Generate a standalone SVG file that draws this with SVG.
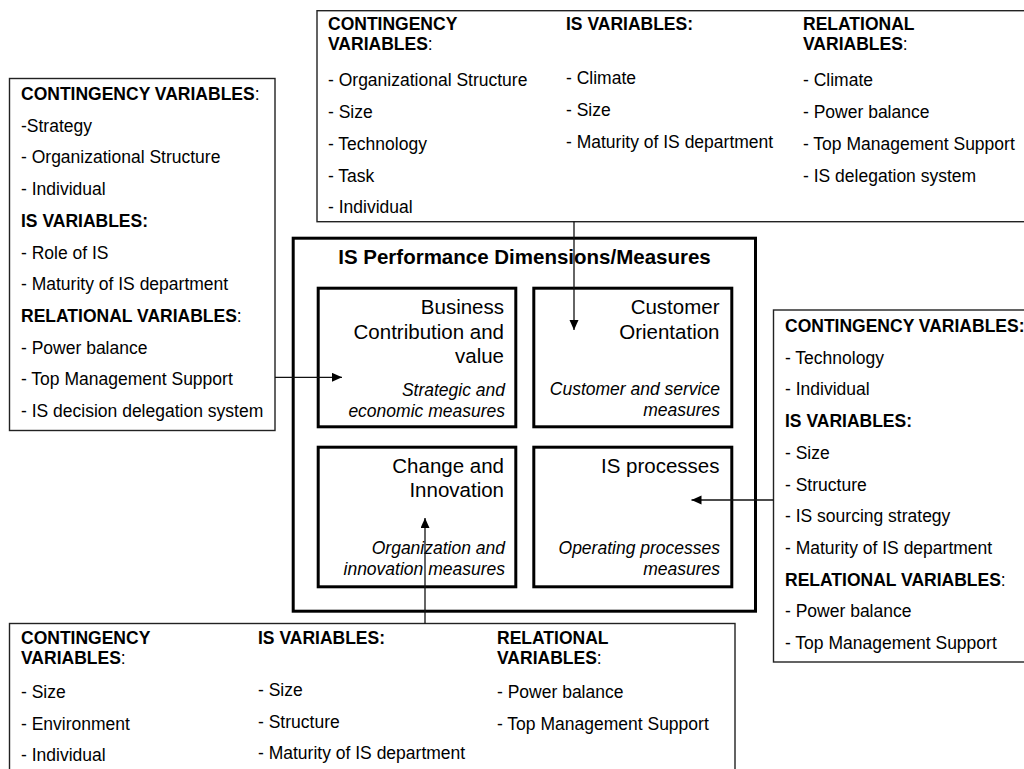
<svg xmlns="http://www.w3.org/2000/svg" width="1024" height="769" viewBox="0 0 1024 769">
  <style>
    text { font-family: "Liberation Sans", Arial, Helvetica, sans-serif; font-size: 17.5px; fill: #000; }
    .b { font-weight: bold; }
    .n { font-weight: normal; }
    .h { font-size: 20.5px; }
    .i { font-style: italic; }
    .r { text-anchor: end; }
    .m { text-anchor: middle; }
    .box { fill: #fff; stroke: #222; stroke-width: 1.4; }
    .thick { fill: #fff; stroke: #000; stroke-width: 3; }
    .link { fill: none; stroke: #111; stroke-width: 1.3; }
  </style>
  <defs>
    <marker id="arrow" markerUnits="userSpaceOnUse" markerWidth="11" markerHeight="10" refX="10" refY="4.5" orient="auto">
      <path d="M0,0 L10,4.5 L0,9 z" fill="#000"/>
    </marker>
  </defs>

  <rect width="1024" height="769" fill="#fff"/>

  <!-- central frame with the four performance dimensions -->
  <g id="performance-frame">
    <rect class="thick" x="293.2" y="238.2" width="462.3" height="373"/>
    <text class="b h m" x="524.5" y="264">IS Performance Dimensions/Measures</text>
  </g>

  <g id="business-contribution">
    <rect class="thick" x="318.2" y="288.2" width="197.6" height="138.6"/>
    <text class="h r" x="504" y="314">Business</text>
    <text class="h r" x="504" y="338.5">Contribution and</text>
    <text class="h r" x="504" y="363">value</text>
    <text class="i r" x="505" y="396">Strategic and</text>
    <text class="i r" x="505" y="417">economic measures</text>
  </g>

  <g id="customer-orientation">
    <rect class="thick" x="533.8" y="288.2" width="198" height="138.6"/>
    <text class="h r" x="719.5" y="314">Customer</text>
    <text class="h r" x="719.5" y="338.5">Orientation</text>
    <text class="i r" x="720" y="395">Customer and service</text>
    <text class="i r" x="720" y="416">measures</text>
  </g>

  <g id="change-innovation">
    <rect class="thick" x="318.2" y="447.2" width="197.6" height="139.6"/>
    <text class="h r" x="504" y="473">Change and</text>
    <text class="h r" x="504" y="497">Innovation</text>
    <text class="i r" x="505" y="554">Organization and</text>
    <text class="i r" x="505" y="575">innovation measures</text>
  </g>

  <g id="is-processes">
    <rect class="thick" x="533.8" y="447.2" width="198" height="139.6"/>
    <text class="h r" x="719.5" y="473">IS processes</text>
    <text class="i r" x="720" y="553.5">Operating processes</text>
    <text class="i r" x="720" y="574.5">measures</text>
  </g>

  <!-- variable boxes around the frame -->
  <g id="top-variables">
    <rect class="box" x="317" y="10.7" width="730" height="211"/>
    <text class="b" x="328" y="30">CONTINGENCY</text>
    <text class="b" x="328" y="50">VARIABLES<tspan class="n">:</tspan></text>
    <text x="328" y="86">- Organizational Structure</text>
    <text x="328" y="118">- Size</text>
    <text x="328" y="150">- Technology</text>
    <text x="328" y="182">- Task</text>
    <text x="328" y="213">- Individual</text>

    <text class="b" x="566" y="30">IS VARIABLES:</text>
    <text x="566" y="84">- Climate</text>
    <text x="566" y="116">- Size</text>
    <text x="566" y="148">- Maturity of IS department</text>

    <text class="b" x="803" y="30">RELATIONAL</text>
    <text class="b" x="803" y="50">VARIABLES<tspan class="n">:</tspan></text>
    <text x="803" y="86">- Climate</text>
    <text x="803" y="118">- Power balance</text>
    <text x="803" y="150">- Top Management Support</text>
    <text x="803" y="182">- IS delegation system</text>
  </g>

  <g id="left-variables">
    <rect class="box" x="9.5" y="78.5" width="265.5" height="352"/>
    <text class="b" x="21" y="100">CONTINGENCY VARIABLES<tspan class="n">:</tspan></text>
    <text x="21" y="131.7">-Strategy</text>
    <text x="21" y="163.4">- Organizational Structure</text>
    <text x="21" y="195.1">- Individual</text>
    <text class="b" x="21" y="226.8">IS VARIABLES:</text>
    <text x="21" y="258.5">- Role of IS</text>
    <text x="21" y="290.2">- Maturity of IS department</text>
    <text class="b" x="21" y="321.9">RELATIONAL VARIABLES<tspan class="n">:</tspan></text>
    <text x="21" y="353.6">- Power balance</text>
    <text x="21" y="385.3">- Top Management Support</text>
    <text x="21" y="417">- IS decision delegation system</text>
  </g>

  <g id="right-variables">
    <rect class="box" x="773.5" y="310" width="270" height="352"/>
    <text class="b" x="785" y="332">CONTINGENCY VARIABLES:</text>
    <text x="785" y="363.7">- Technology</text>
    <text x="785" y="395.4">- Individual</text>
    <text class="b" x="785" y="427.1">IS VARIABLES:</text>
    <text x="785" y="458.8">- Size</text>
    <text x="785" y="490.5">- Structure</text>
    <text x="785" y="522.2">- IS sourcing strategy</text>
    <text x="785" y="553.9">- Maturity of IS department</text>
    <text class="b" x="785" y="585.6">RELATIONAL VARIABLES<tspan class="n">:</tspan></text>
    <text x="785" y="617.3">- Power balance</text>
    <text x="785" y="649">- Top Management Support</text>
  </g>

  <g id="bottom-variables">
    <rect class="box" x="9.5" y="623.5" width="725.5" height="160"/>
    <text class="b" x="21" y="643.5">CONTINGENCY</text>
    <text class="b" x="21" y="663.5">VARIABLES<tspan class="n">:</tspan></text>
    <text x="21" y="698">- Size</text>
    <text x="21" y="730">- Environment</text>
    <text x="21" y="761">- Individual</text>

    <text class="b" x="258" y="643.5">IS VARIABLES:</text>
    <text x="258" y="696">- Size</text>
    <text x="258" y="728">- Structure</text>
    <text x="258" y="759">- Maturity of IS department</text>

    <text class="b" x="497" y="643.5">RELATIONAL</text>
    <text class="b" x="497" y="663.5">VARIABLES<tspan class="n">:</tspan></text>
    <text x="497" y="698">- Power balance</text>
    <text x="497" y="730">- Top Management Support</text>
  </g>

  <!-- arrows from each variable box into its dimension -->
  <g id="connectors">
    <line class="link" x1="574" y1="221.7" x2="574" y2="330" marker-end="url(#arrow)"/>
    <line class="link" x1="275" y1="377.3" x2="342" y2="377.3" marker-end="url(#arrow)"/>
    <line class="link" x1="773.5" y1="500" x2="691.5" y2="500" marker-end="url(#arrow)"/>
    <line class="link" x1="425" y1="623.5" x2="425" y2="518" marker-end="url(#arrow)"/>
  </g>
</svg>
